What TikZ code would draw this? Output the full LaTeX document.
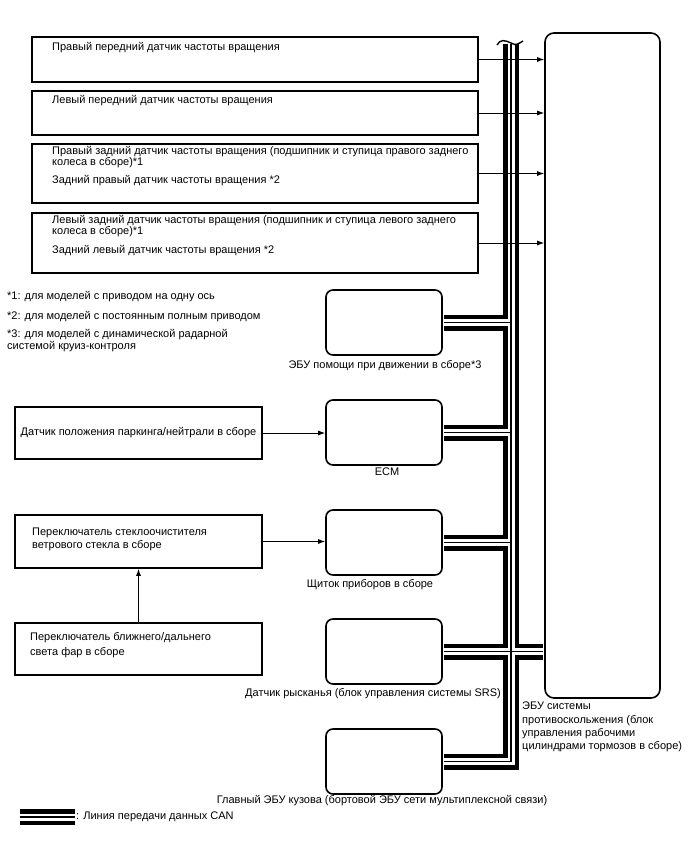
\documentclass[tikz,border=0pt]{standalone}
\usepackage{fontspec}
\setmainfont{Liberation Sans}
\usetikzlibrary{arrows.meta,calc}

\begin{document}
\begin{tikzpicture}[x=1pt,y=-1pt,>=Latex,line join=miter,font=\fontsize{11}{13}\selectfont]
\useasboundingbox (0,0) rectangle (688,852);
\tikzset{sensorbox/.style={draw=black,line width=1.6pt,fill=white,minimum width=446pt,inner sep=0pt},
  ecubox/.style={draw=black,line width=1.6pt,fill=white,rounded corners=7pt,minimum width=116pt,minimum height=65pt,inner sep=0pt},
  switchbox/.style={draw=black,line width=1.6pt,fill=white,minimum width=247pt,minimum height=52pt,inner sep=0pt},
  signal/.style={draw=black,line width=0.9pt,-{Latex[length=7pt,width=5pt]}},
  note/.style={anchor=west,align=left,inner sep=0pt},
  caption/.style={anchor=north,inner sep=0pt}}
% wheel speed sensors
\node[sensorbox,minimum height=45pt] (sFR) at (255,59.5) {};
\node[sensorbox,minimum height=44pt] (sFL) at (255,113) {};
\node[sensorbox,minimum height=59pt] (sRR) at (255,173.5) {};
\node[sensorbox,minimum height=60pt] (sRL) at (255,243) {};
\node[note] (tFR) at (52,48) {Правый передний датчик частоты вращения};
\node[note] (tFL) at (52,101) {Левый передний датчик частоты вращения};
\node[note] (tRRa) at (52,152) {Правый задний датчик частоты вращения (подшипник и ступица правого заднего};
\node[note] (tRRb) at (52,163) {колеса в сборе)*1};
\node[note] (tRRc) at (52,181) {Задний правый датчик частоты вращения *2};
\node[note] (tRLa) at (52,221) {Левый задний датчик частоты вращения (подшипник и ступица левого заднего};
\node[note] (tRLb) at (52,232) {колеса в сборе)*1};
\node[note] (tRLc) at (52,251) {Задний левый датчик частоты вращения *2};
% skid control ECU
\node[ecubox,minimum width=115pt,minimum height=665pt,rounded corners=9pt] (abs) at (602.5,365.5) {};
\node[anchor=north west,align=left,inner sep=0pt,font=\fontsize{11}{13.2}\selectfont] (absT) at (522,702) {ЭБУ системы\\противоскольжения (блок\\управления рабочими\\цилиндрами тормозов в сборе)};
% CAN ECUs
\node[ecubox] (das) at (384,322.5) {};
\node[ecubox] (ecm) at (384,432.5) {};
\node[ecubox] (meter) at (384,542.5) {};
\node[ecubox] (yaw) at (384,651.5) {};
\node[ecubox] (body) at (384,761.5) {};
\node[caption] (dasT) at (385,360) {ЭБУ помощи при движении в сборе*3};
\node[caption] (ecmT) at (387,468) {ECM};
\node[caption] (meterT) at (370,579) {Щиток приборов в сборе};
\node[caption] (yawT) at (373,688) {Датчик рысканья (блок управления системы SRS)};
\node[caption] (bodyT) at (382,795) {Главный ЭБУ кузова (бортовой ЭБУ сети мультиплексной связи)};
% switches
\node[switchbox] (park) at (138.5,433) {Датчик положения паркинга/нейтрали в сборе};
\node[switchbox,minimum height=53pt] (wiper) at (138.5,541.5) {};
\node[switchbox] (head) at (138.5,649) {};
\node[note] (wiperT) at (32,533) {Переключатель стеклоочистителя};
\node[note] (wiperT2) at (32,546) {ветрового стекла в сборе};
\node[note] (headT) at (30,638) {Переключатель ближнего/дальнего};
\node[note] (headT2) at (30,653) {света фар в сборе};
% footnotes
\node[note] (n1) at (7,297) {*1: для моделей с приводом на одну ось};
\node[note] (n2) at (7,317) {*2: для моделей с постоянным полным приводом};
\node[note] (n3) at (7,335) {*3: для моделей с динамической радарной};
\node[note] (n3b) at (7,347) {системой круиз-контроля};
% CAN bus
\coordinate (bustop) at (511,44);
\coordinate (buscorner) at (bustop |- body.east);
\coordinate (legA) at (20,817);
\coordinate (legB) at (75,817);
\foreach \w/\c in {16/black,7/white,1.8/black}
  \draw[line width=\w pt,draw=\c]
    (bustop) -- (buscorner) -- ([xshift=0.8pt]body.east)
    ([xshift=0.8pt]das.east) -- (das.east -| bustop)
    ([xshift=0.8pt]ecm.east) -- (ecm.east -| bustop)
    ([xshift=0.8pt]meter.east) -- (meter.east -| bustop)
    ([xshift=0.8pt]yaw.east) -- ($(yaw.east -| abs.west)+(-0.8,0)$)
    (legA) -- (legB);
\draw[line width=1.4pt] ([shift={(-14,1)}]bustop) .. controls +(3,-6) and +(-6,-3) .. ([shift={(0,-1)}]bustop) .. controls +(5,3) and +(-5,3) .. ([shift={(12,-3)}]bustop);
\node[note] (legT) at (76,817) {: Линия передачи данных CAN};
% signal lines
\draw[signal] (sFR.east) -- (sFR.east -| abs.west);
\draw[signal] (sFL.east) -- (sFL.east -| abs.west);
\draw[signal] (sRR.east) -- (sRR.east -| abs.west);
\draw[signal] (sRL.east) -- (sRL.east -| abs.west);
\draw[signal] (park.east) -- (park.east -| ecm.west);
\draw[signal] (wiper.east) -- (wiper.east -| meter.west);
\draw[signal] (head.north) -- (wiper.south);
\end{tikzpicture}
\end{document}
